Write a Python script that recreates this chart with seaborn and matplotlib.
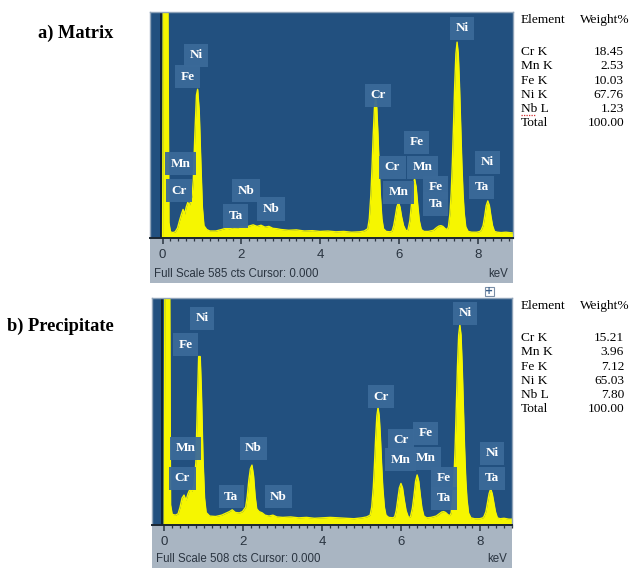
import matplotlib
matplotlib.use("Agg")
import matplotlib.pyplot as plt
import seaborn as sns
from matplotlib.patches import Rectangle

# ---------------- data ----------------
energy_a = [0.00, 0.02, 0.13, 0.16, 0.20, 0.26, 0.32, 0.38, 0.43, 0.48, 0.52, 0.56, 0.60, 0.64, 0.68,
            0.72, 0.75, 0.78, 0.82, 0.86, 0.89, 0.93, 0.97, 1.01, 1.05, 1.12, 1.20, 1.35, 1.50, 1.60,
            1.70, 1.80, 1.90, 2.00, 2.10, 2.20, 2.30, 2.40, 2.50, 2.60, 2.70, 2.80, 2.90, 3.00, 3.20,
            3.40, 3.60, 3.80, 4.00, 4.20, 4.40, 4.60, 4.80, 5.00, 5.12, 5.21, 5.25, 5.29, 5.32, 5.35,
            5.38, 5.41, 5.44, 5.47, 5.50, 5.53, 5.57, 5.61, 5.68, 5.78, 5.83, 5.87, 5.91, 5.95, 5.99,
            6.03, 6.07, 6.12, 6.18, 6.23, 6.28, 6.32, 6.36, 6.40, 6.44, 6.48, 6.52, 6.57, 6.64, 6.75,
            6.88, 6.96, 7.02, 7.07, 7.12, 7.18, 7.23, 7.26, 7.30, 7.33, 7.36, 7.39, 7.42, 7.45, 7.48,
            7.51, 7.54, 7.57, 7.60, 7.63, 7.66, 7.70, 7.76, 7.85, 7.98, 8.06, 8.09, 8.14, 8.18, 8.22,
            8.26, 8.30, 8.34, 8.38, 8.43, 8.50, 8.60, 8.72, 8.90]
counts_a = [0, 700, 700, 40, 16, 14, 16, 26, 45, 62, 74, 62, 80, 92, 84,
            98, 110, 150, 270, 370, 385, 330, 200, 80, 32, 22, 18, 18, 22, 25,
            24, 27, 26, 29, 27, 31, 34, 30, 33, 28, 30, 25, 24, 22, 20,
            21, 18, 19, 17, 18, 16, 17, 15, 16, 18, 24, 50, 112, 184, 268,
            336, 363, 336, 268, 184, 112, 50, 24, 17, 16, 18, 32, 55, 80, 92,
            80, 55, 32, 19, 20, 45, 86, 132, 153, 132, 86, 45, 22, 17, 17,
            20, 27, 31, 32, 30, 24, 22, 29, 65, 116, 195, 295, 398, 477, 507,
            477, 398, 295, 195, 116, 65, 29, 17, 15, 15, 17, 20, 32, 56, 84,
            96, 84, 56, 32, 17, 15, 14, 15, 13]

energy_b = [0.00, 0.02, 0.13, 0.16, 0.20, 0.28, 0.35, 0.40, 0.45, 0.50, 0.55, 0.60, 0.65, 0.70, 0.75,
            0.80, 0.84, 0.87, 0.91, 0.94, 0.98, 1.02, 1.06, 1.15, 1.30, 1.45, 1.55, 1.65, 1.72, 1.80,
            1.90, 1.98, 2.06, 2.10, 2.14, 2.18, 2.22, 2.26, 2.30, 2.34, 2.40, 2.48, 2.55, 2.65, 2.75,
            2.85, 3.00, 3.20, 3.40, 3.60, 3.80, 4.00, 4.20, 4.40, 4.60, 4.80, 5.00, 5.12, 5.21, 5.25,
            5.29, 5.32, 5.35, 5.38, 5.41, 5.44, 5.47, 5.50, 5.53, 5.57, 5.61, 5.68, 5.78, 5.83, 5.87,
            5.91, 5.95, 5.99, 6.03, 6.07, 6.12, 6.18, 6.23, 6.28, 6.32, 6.36, 6.40, 6.44, 6.48, 6.52,
            6.57, 6.64, 6.75, 6.88, 6.96, 7.02, 7.07, 7.12, 7.18, 7.23, 7.26, 7.30, 7.33, 7.36, 7.39,
            7.42, 7.45, 7.48, 7.51, 7.54, 7.57, 7.60, 7.63, 7.66, 7.70, 7.76, 7.85, 7.98, 8.06, 8.09,
            8.14, 8.18, 8.22, 8.26, 8.30, 8.34, 8.38, 8.43, 8.50, 8.60, 8.72, 8.90]
counts_b = [0, 700, 700, 45, 24, 22, 25, 40, 60, 67, 55, 70, 80, 75, 88,
            140, 280, 377, 377, 300, 150, 60, 28, 20, 19, 22, 26, 30, 34, 28,
            27, 30, 40, 64, 100, 126, 134, 110, 64, 36, 30, 27, 22, 20, 22,
            18, 17, 18, 16, 17, 15, 16, 17, 16, 15, 14, 16, 18, 22, 40,
            84, 136, 196, 244, 263, 244, 196, 136, 84, 40, 22, 17, 16, 18, 32,
            58, 83, 93, 83, 58, 32, 17, 18, 38, 66, 98, 112, 98, 66, 38,
            20, 16, 17, 20, 25, 29, 30, 28, 23, 21, 27, 58, 102, 172, 262,
            355, 425, 448, 425, 355, 262, 172, 102, 58, 27, 16, 14, 14, 16, 19,
            30, 50, 70, 81, 70, 50, 30, 16, 14, 15, 13, 13]

full_scale_a = 585
full_scale_b = 508

# peak labels: (text, energy keV, counts)
labels_a = [("Ni", 0.85, 473), ("Fe", 0.63, 417), ("Mn", 0.46, 192), ("Cr", 0.42, 122),
            ("Nb", 2.11, 122), ("Ta", 1.86, 57), ("Nb", 2.75, 75),
            ("Cr", 5.47, 369), ("Ni", 7.61, 543),
            ("Fe", 6.45, 248), ("Cr", 5.84, 183), ("Mn", 6.60, 183), ("Mn", 6.00, 118),
            ("Fe", 6.94, 131), ("Ta", 6.94, 88), ("Ni", 8.25, 196), ("Ta", 8.10, 131)]
labels_b = [("Ni", 0.96, 463), ("Fe", 0.54, 403), ("Mn", 0.54, 172), ("Cr", 0.46, 105),
            ("Nb", 2.26, 172), ("Ta", 1.70, 63), ("Nb", 2.89, 63),
            ("Cr", 5.48, 287), ("Ni", 7.62, 474),
            ("Cr", 5.99, 190), ("Fe", 6.62, 205), ("Mn", 5.99, 146), ("Mn", 6.62, 149),
            ("Fe", 7.08, 105), ("Ta", 7.08, 60), ("Ni", 8.29, 161), ("Ta", 8.29, 105)]

elements = ["Cr K", "Mn K", "Fe K", "Ni K", "Nb L", "Total"]
weight_a = ["18.45", "2.53", "10.03", "67.76", "1.23", "100.00"]
weight_b = ["15.21", "3.96", "7.12", "65.03", "7.80", "100.00"]

tick_vals = [0, 2, 4, 6, 8]

# ---------------- style ----------------
W, H = 632, 568
BLUE = "#22507f"
GREY = "#a9b5c2"
BOX = "#3b6a99"
YEL = "#f6f600"
DARK = "#2a3440"

fig = plt.figure(figsize=(W / 100, H / 100), dpi=100)
fig.patch.set_facecolor("white")


def px_axes(x0, y0, x1, y1, **kw):
    return fig.add_axes([x0 / W, 1 - y1 / H, (x1 - x0) / W, (y1 - y0) / H], **kw)


def panel(box, strip, xlim, energy, counts, fs, labels, zero_x):
    gx = px_axes(*strip)
    gx.set_facecolor(GREY)
    gx.set_xticks([]); gx.set_yticks([])
    for s in gx.spines.values():
        s.set_visible(False)
    gx.set_xlim(0, 1); gx.set_ylim(0, 1)
    gx.text(0.012, 0.2, f"Full Scale {fs} cts Cursor: 0.000", fontsize=8.3,
            color=DARK, family="Liberation Sans", va="center", ha="left")
    gx.text(0.985, 0.2, "keV", fontsize=8.3, color=DARK, family="Liberation Sans",
            va="center", ha="right")

    ax = px_axes(*box)
    ax.set_zorder(3)
    ax.set_facecolor(BLUE)
    sns.lineplot(x=energy, y=counts, ax=ax, color=YEL, linewidth=1.0, sort=False)
    ax.fill_between(energy, counts, color=YEL, linewidth=0)
    ax.axvline(zero_x, color="#0d1b2a", lw=1.2, zorder=1)
    ax.set_xlim(*xlim)
    ax.set_ylim(0, fs)
    ax.set_yticks([])
    ax.set_xticks(tick_vals)
    ax.set_xticklabels([str(t) for t in tick_vals])
    ax.set_xticks([i * 0.2 for i in range(0, 45)], minor=True)
    ax.tick_params(axis="x", which="major", length=4, width=1.1, color=DARK,
                   labelsize=9.5, labelcolor=DARK, pad=4)
    ax.tick_params(axis="x", which="minor", length=2.5, width=0.9, color=DARK)
    for lab in ax.get_xticklabels():
        lab.set_family("Liberation Sans")
    ax.set_xlabel(""); ax.set_ylabel("")
    for k, s in ax.spines.items():
        if k == "bottom":
            s.set_color("#1a2530"); s.set_linewidth(1.4)
        else:
            s.set_color("#8fa3b8"); s.set_linewidth(1.0)
    for txt, ex, cy in labels:
        ax.text(ex, cy, txt, color="white", fontsize=9.5, fontweight="bold",
                family="Liberation Serif", ha="center", va="center", zorder=5,
                bbox=dict(boxstyle="square,pad=0.42", fc=BOX, ec="none", alpha=0.95))
    return ax


panel((150, 12, 513, 238), (150, 238, 513, 283), (-0.32, 8.90),
      energy_a, counts_a, full_scale_a, labels_a, -0.05)
panel((152, 298, 512, 525), (152, 525, 512, 568), (-0.31, 8.74),
      energy_b, counts_b, full_scale_b, labels_b, -0.05)

# titles
fig.text(38 / W, 1 - 33 / H, "a) Matrix", fontsize=13.2, fontweight="bold",
         family="Liberation Serif", va="center", ha="left")
fig.text(7 / W, 1 - 326 / H, "b) Precipitate", fontsize=13.2, fontweight="bold",
         family="Liberation Serif", va="center", ha="left")

ROW0, DROW = 32, 14.3


def table(y0, weights):
    fig.text(521 / W, 1 - y0 / H, "Element", fontsize=9.6, family="Liberation Serif",
             va="center", ha="left")
    fig.text(630 / W, 1 - y0 / H, "Weight%", fontsize=9.6, family="Liberation Serif",
             va="center", ha="right")
    for i, (e, w) in enumerate(zip(elements, weights)):
        y = y0 + ROW0 + i * DROW
        fig.text(521 / W, 1 - y / H, e, fontsize=9.6, family="Liberation Serif",
                 va="center", ha="left")
        fig.text(624 / W, 1 - y / H, w, fontsize=9.6, family="Liberation Serif",
                 va="center", ha="right")


table(20, weight_a)
table(306, weight_b)

# red spell-check underline under "Nb" in top table
y_nb = 20 + ROW0 + 4 * DROW + 6
fig.add_artist(plt.Line2D([521 / W, 535 / W], [1 - y_nb / H] * 2,
                          color="#d03030", lw=0.9, ls=(0, (1, 1))))

# small move icon
fig.add_artist(Rectangle((485 / W, 1 - 296 / H), 9 / W, 9 / H, fc="white",
                         ec="#7a8ea6", lw=0.8))
fig.text(489.5 / W, 1 - 291.5 / H, "+", fontsize=7, color="#3a5f8a", ha="center",
         va="center", fontweight="bold")

fig.savefig("out.png", dpi=100, facecolor="white")
